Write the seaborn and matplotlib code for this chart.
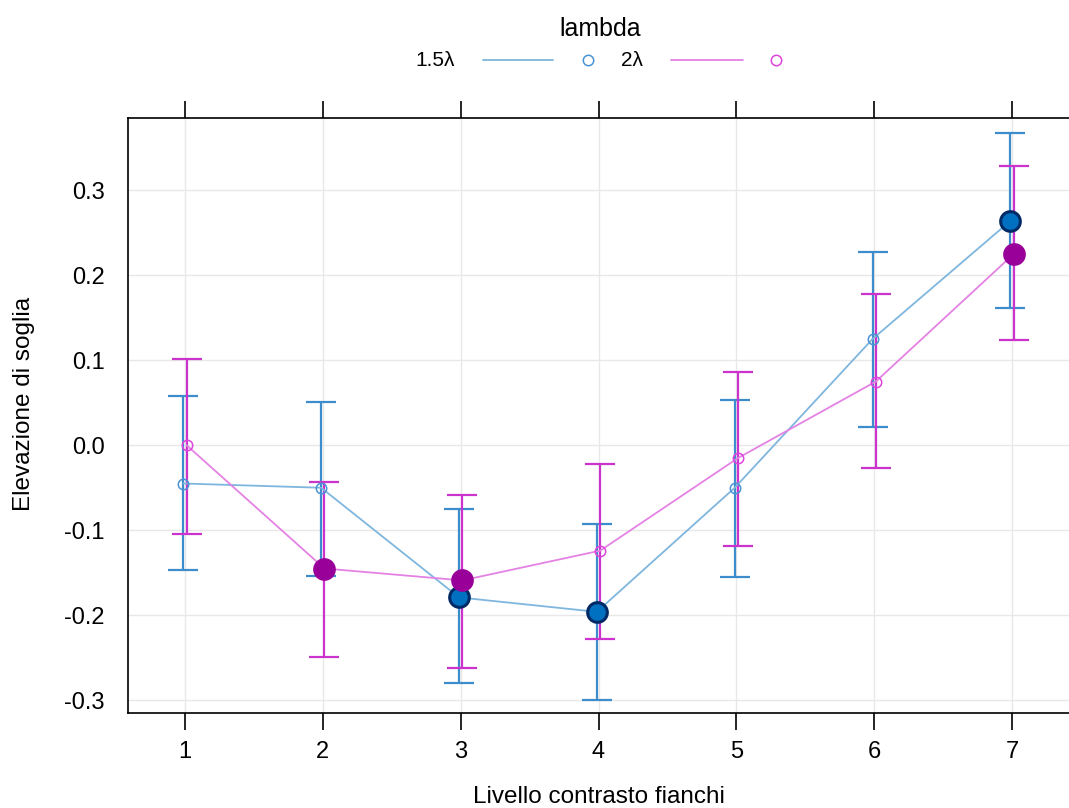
import numpy as np
import pandas as pd
import matplotlib
matplotlib.use("Agg")
import matplotlib.pyplot as plt
import seaborn as sns
from matplotlib.lines import Line2D

# dati
livello = [1, 2, 3, 4, 5, 6, 7]
fit_15 = [-0.045, -0.050, -0.179, -0.196, -0.050, 0.125, 0.264]
lo_15 = [-0.147, -0.154, -0.280, -0.300, -0.155, 0.021, 0.162]
hi_15 = [0.058, 0.051, -0.075, -0.093, 0.053, 0.227, 0.367]
sig_15 = [False, False, True, True, False, False, True]

fit_2 = [0.000, -0.145, -0.159, -0.124, -0.015, 0.075, 0.225]
lo_2 = [-0.104, -0.249, -0.262, -0.228, -0.118, -0.027, 0.124]
hi_2 = [0.102, -0.043, -0.058, -0.022, 0.086, 0.178, 0.328]
sig_2 = [False, True, True, False, False, False, True]

gruppi = ["1.5λ", "2λ"]

sns.set_style("white")
plt.rcParams["font.family"] = ["Liberation Sans", "DejaVu Sans"]
plt.rcParams["text.color"] = "black"
plt.rcParams["axes.labelcolor"] = "black"

df = pd.concat([
    pd.DataFrame({"x": np.array(livello) - 0.012, "fit": fit_15, "lo": lo_15,
                  "hi": hi_15, "sig": sig_15, "lambda": gruppi[0]}),
    pd.DataFrame({"x": np.array(livello) + 0.012, "fit": fit_2, "lo": lo_2,
                  "hi": hi_2, "sig": sig_2, "lambda": gruppi[1]}),
], ignore_index=True)

linea = {"1.5λ": "#7fb6de", "2λ": "#e482e4"}
barre = {"1.5λ": "#3d8ccc", "2λ": "#cc33cc"}
aperto = {"1.5λ": "#4a93d4", "2λ": "#dd44dd"}
pieno = {"1.5λ": "#0070c0", "2λ": "#990099"}
bordo = {"1.5λ": "#002a66", "2λ": "#990099"}

W, H = 1069, 808
fig = plt.figure(figsize=(W / 100, H / 100), dpi=100)
ax = fig.add_axes([128 / W, 1 - 713 / H, 1 - 128 / W, (713 - 118) / H])

for g in gruppi:
    d = df[df["lambda"] == g]
    ax.errorbar(d["x"], d["fit"], yerr=[d["fit"] - d["lo"], d["hi"] - d["fit"]],
                fmt="none", ecolor=barre[g], elinewidth=1.6, capsize=11,
                capthick=1.6, zorder=2)

sns.lineplot(data=df, x="x", y="fit", hue="lambda", palette=linea, ax=ax,
             linewidth=1.3, legend=False, zorder=3, sort=True)

for g in gruppi:
    d = df[df["lambda"] == g]
    ax.plot(d["x"], d["fit"], "o", ms=7.5, mfc="none", mec=aperto[g],
            mew=1.1, zorder=4)
    s = d[d["sig"]]
    sns.scatterplot(x=s["x"], y=s["fit"], color=pieno[g], edgecolor=bordo[g],
                    linewidth=2.2, s=200, ax=ax, zorder=5)

ax.set_xlim(0.587, 7.413)
ax.set_ylim(-0.315, 0.385)
ax.set_xticks(livello)
ax.set_yticks([-0.3, -0.2, -0.1, 0.0, 0.1, 0.2, 0.3])
ax.set_yticklabels(["-0.3", "-0.2", "-0.1", "0.0", "0.1", "0.2", "0.3"])
ax.grid(True, color="#e8e8e8", linewidth=1)
ax.set_axisbelow(True)
for sp in ["left", "bottom", "top"]:
    ax.spines[sp].set_color("black")
    ax.spines[sp].set_linewidth(1.2)
ax.spines["right"].set_visible(False)
ax.tick_params(axis="x", which="both", top=True, bottom=True, direction="out",
               length=12, width=1.2, labelsize=17, pad=8, colors="black")
ax.tick_params(axis="y", direction="out", length=12, width=1.2, labelsize=17,
               pad=5, colors="black")
ax.set_xlabel("Livello contrasto fianchi", fontsize=17.5, va="center")
ax.set_ylabel("Elevazione di soglia", fontsize=17.5, va="center")
ax.xaxis.set_label_coords(0.5, -(797 - 713) / 595)
ax.yaxis.set_label_coords(-(128 - 24) / 941, 0.52)

# legenda in alto, stile lattice
yl = 1 - 60 / H
fig.text(600 / W, 1 - 29 / H, "lambda", ha="center", va="center", fontsize=18)
voci = [(455, 483, 553, 588), (643, 671, 743, 776)]
for g, (xt, x0, x1, xc) in zip(gruppi, voci):
    fig.text(xt / W, yl, g, ha="right", va="center", fontsize=15)
    fig.add_artist(Line2D([x0 / W, x1 / W], [yl, yl], color=linea[g],
                          linewidth=1.3, transform=fig.transFigure))
    fig.add_artist(Line2D([xc / W], [yl], marker="o", ms=7.5, mfc="none",
                          mec=aperto[g], mew=1.1, linestyle="none",
                          transform=fig.transFigure))

fig.savefig("out.png", dpi=100)
